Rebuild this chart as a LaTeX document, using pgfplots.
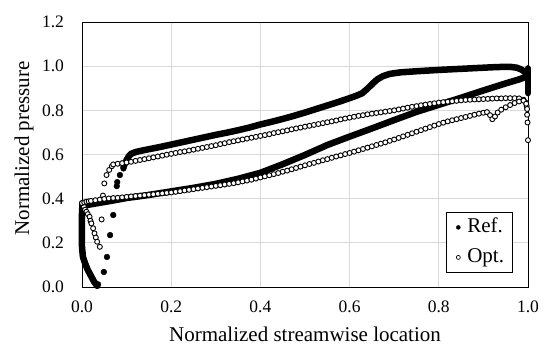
\documentclass[border=0pt]{standalone}
\usepackage{fontspec}
\setmainfont{Liberation Serif}
\usepackage{pgfplots}
\usepackage{pgfplotstable}
\pgfplotsset{compat=1.18}
\definecolor{gridc}{HTML}{D9D9D9}

% Ref. (filled markers) -- upper branch
\pgfplotstableread{
x y
0.093 0.545
0.100 0.575
0.105 0.592
0.110 0.603
0.120 0.611
0.135 0.618
0.150 0.624
0.175 0.634
0.200 0.645
0.225 0.656
0.250 0.667
0.275 0.678
0.300 0.689
0.325 0.699
0.350 0.710
0.375 0.722
0.400 0.736
0.425 0.748
0.450 0.761
0.475 0.775
0.500 0.790
0.525 0.806
0.550 0.822
0.575 0.838
0.600 0.855
0.615 0.866
0.628 0.877
0.640 0.898
0.650 0.918
0.662 0.940
0.675 0.955
0.690 0.965
0.714 0.972
0.750 0.977
0.800 0.983
0.850 0.988
0.900 0.993
0.930 0.996
0.960 0.997
0.975 0.993
0.985 0.985
0.995 0.970
}\refupper

% Ref. -- leading edge and lower branch
\pgfplotstableread{
x y
0.034 0.005
0.027 0.024
0.021 0.047
0.013 0.077
0.007 0.107
0.002 0.137
0.000 0.182
0.000 0.258
0.000 0.333
0.001 0.375
0.013 0.372
0.036 0.380
0.065 0.390
0.100 0.403
0.126 0.410
0.150 0.417
0.200 0.433
0.250 0.449
0.300 0.467
0.350 0.490
0.400 0.517
0.450 0.556
0.500 0.598
0.550 0.643
0.600 0.681
0.650 0.718
0.700 0.756
0.750 0.793
0.800 0.825
0.850 0.857
0.900 0.890
0.950 0.922
0.980 0.940
0.995 0.952
}\reflower

% Ref. -- trailing edge
\pgfplotstableread{
x y
1.000 0.990
1.000 0.960
1.000 0.930
1.000 0.900
1.000 0.878
}\reftrail

% Ref. -- isolated points near the leading edge
\pgfplotstableread{
x y
0.036 0.012
0.049 0.068
0.056 0.136
0.063 0.235
0.070 0.326
0.078 0.457
0.079 0.475
0.085 0.507
0.093 0.537
}\refscatter

% Opt. (open markers) -- upper branch
\pgfplotstableread{
x y
0.000 0.380
0.004 0.365
0.007 0.350
0.010 0.341
0.013 0.330
0.017 0.318
0.019 0.300
0.021 0.288
0.025 0.266
0.028 0.243
0.031 0.224
0.034 0.205
0.040 0.182
0.044 0.306
0.050 0.469
0.055 0.507
0.061 0.530
0.067 0.547
0.070 0.555
0.080 0.558
0.090 0.561
0.100 0.564
0.110 0.567
0.120 0.571
0.130 0.575
0.140 0.579
0.150 0.583
0.160 0.587
0.170 0.591
0.180 0.595
0.190 0.599
0.200 0.603
0.210 0.607
0.220 0.611
0.230 0.614
0.240 0.618
0.250 0.622
0.260 0.626
0.270 0.630
0.280 0.634
0.290 0.638
0.300 0.642
0.310 0.647
0.320 0.651
0.330 0.656
0.340 0.660
0.350 0.664
0.360 0.668
0.370 0.672
0.380 0.676
0.390 0.680
0.400 0.684
0.410 0.688
0.420 0.692
0.430 0.697
0.440 0.701
0.450 0.705
0.460 0.709
0.470 0.714
0.480 0.718
0.490 0.722
0.500 0.726
0.510 0.730
0.520 0.734
0.530 0.738
0.540 0.742
0.550 0.746
0.560 0.750
0.570 0.754
0.580 0.759
0.590 0.763
0.600 0.767
0.610 0.771
0.620 0.775
0.630 0.778
0.640 0.782
0.650 0.785
0.660 0.788
0.670 0.791
0.680 0.794
0.690 0.797
0.700 0.800
0.710 0.804
0.720 0.808
0.730 0.812
0.740 0.816
0.750 0.819
0.760 0.823
0.770 0.826
0.780 0.829
0.790 0.832
0.800 0.835
0.810 0.837
0.820 0.839
0.830 0.841
0.840 0.843
0.850 0.845
0.860 0.847
0.870 0.848
0.880 0.849
0.890 0.850
0.900 0.851
0.910 0.852
0.920 0.853
0.930 0.854
0.940 0.854
0.950 0.855
0.960 0.855
0.970 0.855
0.980 0.854
0.990 0.848
0.995 0.835
0.997 0.820
}\optupper

% Opt. -- lower branch
\pgfplotstableread{
x y
0.000 0.380
0.005 0.383
0.010 0.386
0.015 0.388
0.020 0.390
0.030 0.393
0.040 0.396
0.047 0.414
0.050 0.399
0.060 0.401
0.070 0.403
0.080 0.404
0.090 0.406
0.100 0.408
0.110 0.410
0.120 0.412
0.130 0.414
0.140 0.416
0.150 0.418
0.160 0.420
0.170 0.422
0.180 0.424
0.190 0.426
0.200 0.428
0.210 0.431
0.220 0.434
0.230 0.437
0.240 0.440
0.250 0.443
0.260 0.446
0.270 0.449
0.280 0.452
0.290 0.455
0.300 0.458
0.310 0.461
0.320 0.464
0.330 0.467
0.340 0.470
0.350 0.474
0.360 0.478
0.370 0.482
0.380 0.486
0.390 0.491
0.400 0.496
0.410 0.501
0.420 0.506
0.430 0.511
0.440 0.516
0.450 0.522
0.460 0.527
0.470 0.533
0.480 0.539
0.490 0.545
0.500 0.551
0.510 0.557
0.520 0.562
0.530 0.568
0.540 0.574
0.550 0.579
0.560 0.585
0.570 0.591
0.580 0.596
0.590 0.602
0.600 0.607
0.610 0.613
0.620 0.619
0.630 0.625
0.640 0.631
0.650 0.637
0.660 0.643
0.670 0.649
0.680 0.655
0.690 0.662
0.700 0.668
0.710 0.675
0.720 0.682
0.730 0.689
0.740 0.696
0.750 0.703
0.760 0.710
0.770 0.717
0.780 0.724
0.790 0.731
0.800 0.738
0.810 0.744
0.820 0.750
0.830 0.755
0.840 0.760
0.850 0.765
0.860 0.770
0.870 0.775
0.880 0.780
0.890 0.785
0.900 0.789
0.908 0.792
0.915 0.778
0.920 0.760
0.926 0.772
0.932 0.790
0.940 0.803
0.950 0.814
0.960 0.824
0.970 0.833
0.980 0.840
0.990 0.844
0.996 0.830
0.998 0.806
0.998 0.780
0.999 0.745
1.000 0.665
}\optlower

\newcommand\tickfont{\fontsize{17.5bp}{20bp}\selectfont}
\newcommand\labfont{\fontsize{21bp}{24bp}\selectfont}

\begin{document}
\begin{tikzpicture}
\begin{axis}[
  at={(0,0)}, anchor=south west,
  scale only axis, width=446bp, height=265bp,
  xmin=0, xmax=1, ymin=0, ymax=1.2,
  xtick={0,0.2,0.4,0.6,0.8,1.0},
  ytick={0,0.2,0.4,0.6,0.8,1.0,1.2},
  major tick length=0pt,
  grid=major,
  grid style={gridc, line width=0.8bp},
  axis line style={black, line width=0.8bp},
  clip=false,
  tick label style={font=\tickfont},
  /pgf/number format/assume math mode=true,
  /pgf/number format/.cd, fixed, fixed zerofill, precision=1, /pgfplots/.cd,
  xticklabel style={yshift=-10bp},
  yticklabel style={xshift=-14.5bp},
  xlabel={Normalized streamwise location},
  ylabel={Normalized pressure},
  xlabel style={font=\labfont, at={(axis description cs:0.5,-0.177)}, anchor=center},
  ylabel style={font=\labfont, at={(axis description cs:-0.130,0.523)}, anchor=center},
  legend image code/.code={%
    \path[draw=none, fill=none, mark=none] (-11bp,-2bp) -- (2bp,2bp);%
    \draw[#1] plot coordinates {(0bp,0bp)};},
  legend style={at={(axis description cs:0.816,0.283)}, anchor=north west,
    font=\labfont, draw=black, line width=0.8bp, fill=white,
    inner xsep=1bp, inner ysep=0bp, row sep=0bp,
    nodes={text height=14bp, text depth=4bp, inner ysep=6bp, inner xsep=7bp}},
  legend cell align=left,
]
\addplot[black, line width=6.5bp, line join=round, line cap=round, forget plot] table {\refupper};
\addplot[black, line width=6.5bp, line join=round, line cap=round, forget plot] table {\reflower};
\addplot[black, line width=6.5bp, line join=round, line cap=round, forget plot] table {\reftrail};
\addplot[black, only marks, mark=*, mark size=2.9bp, forget plot] table {\refscatter};
\addplot[only marks, mark=*, mark size=2.5bp, mark options={draw=black, fill=white, line width=0.9bp}, forget plot] table {\optupper};
\addplot[only marks, mark=*, mark size=2.5bp, mark options={draw=black, fill=white, line width=0.9bp}, forget plot] table {\optlower};
\addlegendimage{black, only marks, mark=*, mark size=2bp, mark options={draw=black, fill=black, line width=0.4bp}}
\addlegendentry{Ref.}
\addlegendimage{black, only marks, mark=*, mark size=2bp, mark options={draw=black, fill=white, line width=0.7bp}}
\addlegendentry{Opt.}
\end{axis}
\pgfresetboundingbox
\path[use as bounding box] (-82bp,-66bp) rectangle (468bp,287bp);
\end{tikzpicture}
\end{document}
